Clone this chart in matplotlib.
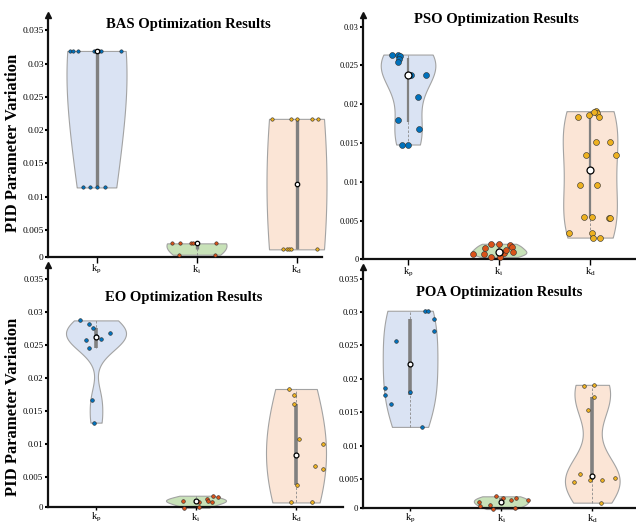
import numpy as np
import matplotlib.pyplot as plt

plt.rcParams['font.family'] = ['Liberation Serif', 'DejaVu Serif']
plt.rcParams['mathtext.fontset'] = 'custom'
plt.rcParams['mathtext.rm'] = 'Liberation Serif'
plt.rcParams['mathtext.it'] = 'Liberation Serif:italic'

gain_labels = [r'$\mathregular{k_p}$', r'$\mathregular{k_i}$', r'$\mathregular{k_d}$']

# BAS runs: parameter variation and horizontal jitter of each dot
bas_kp = [0.0319, 0.0319, 0.0319, 0.0319, 0.0319, 0.0319, 0.0319, 0.0319,
          0.0114, 0.0114, 0.0114, 0.0114]
bas_kp_dx = [-0.267, -0.24, -0.187, -0.027, -0.01, 0.023, 0.04, 0.24,
             -0.133, -0.07, 0.0, 0.08]
bas_ki = [0.0030, 0.0030, 0.0030, 0.0030, 0.0030, 0.0030, 0.0013, 0.0013]
bas_ki_dx = [-0.247, -0.163, -0.053, -0.037, 0.0, 0.19, -0.177, 0.18]
bas_kd = [0.0217, 0.0217, 0.0217, 0.0217, 0.0217,
          0.0021, 0.0021, 0.0021, 0.0021, 0.0021]
bas_kd_dx = [-0.25, -0.053, 0.007, 0.157, 0.213, -0.133, -0.10, -0.077, -0.06, 0.207]

# PSO runs
pso_kp = [0.0263, 0.0264, 0.0262, 0.0258, 0.0255, 0.0238, 0.0238, 0.0238,
          0.0209, 0.0180, 0.0168, 0.0148, 0.0148]
pso_kp_dx = [-0.179, -0.113, -0.088, -0.096, -0.11, 0.003, 0.033, 0.195,
             0.113, -0.107, 0.124, -0.063, 0.003]
pso_ki = [0.0007, 0.0015, 0.0020, 0.0020, 0.0019, 0.0016, 0.0009, 0.0008,
          0.0009, 0.0007, 0.0003, 0.0003, 0.0012]
pso_ki_dx = [-0.282, -0.151, -0.088, -0.003, 0.124, 0.14, 0.154, 0.055,
             0.008, -0.162, -0.091, 0.014, 0.08]
pso_kd = [0.0183, 0.0186, 0.0191, 0.0188, 0.0183, 0.0190, 0.0151, 0.0151,
          0.0135, 0.0135, 0.0096, 0.0096, 0.0055, 0.0055, 0.0053, 0.0053,
          0.00345, 0.00345, 0.0028, 0.0028]
pso_kd_dx = [-0.129, -0.008, 0.063, 0.08, 0.102, 0.044, 0.066, 0.223,
             -0.041, 0.289, -0.113, 0.077, -0.063, 0.019, 0.205, 0.216,
             -0.227, 0.019, 0.03, 0.11]

# EO runs
eo_kp = [0.0287, 0.0282, 0.0276, 0.0268, 0.0257, 0.0259, 0.0245, 0.0264,
         0.0167, 0.0132]
eo_kp_dx = [-0.16, -0.067, -0.033, 0.14, -0.103, 0.05, -0.067, 0.0, -0.043, -0.017]
eo_ki = [0.00136, 0.0003, 0.00136, 0.00112, 0.00036, 0.00158, 0.00136,
         0.00112, 0.00212, 0.00188]
eo_ki_dx = [-0.133, -0.123, 0.0, 0.033, 0.033, 0.107, 0.12, 0.163, 0.173, 0.217]
eo_kd = [0.0183, 0.0174, 0.0160, 0.0107, 0.0100, 0.0066, 0.0061, 0.0037,
         0.0011, 0.0011]
eo_kd_dx = [-0.067, -0.02, -0.02, 0.03, 0.273, 0.19, 0.273, 0.007, -0.05, 0.163]

# POA runs
poa_kp = [0.0302, 0.0302, 0.0290, 0.0272, 0.0257, 0.0187, 0.0181, 0.0176,
          0.0162, 0.0128]
poa_kp_dx = [0.165, 0.198, 0.264, 0.267, -0.154, -0.278, -0.003, -0.278, -0.205, 0.132]
poa_ki = [0.0015, 0.0010, 0.0011, 0.0005, 0.0024, 0.0015, 0.0022, 0.0019,
          0.0007, 0.0022, 0.0018]
poa_ki_dx = [-0.245, -0.227, -0.118, -0.088, -0.055, 0.003, 0.019, 0.11,
             0.154, 0.165, 0.293]
poa_kd = [0.0190, 0.0191, 0.01725, 0.0153, 0.0058, 0.0046, 0.0049, 0.0049,
          0.0052, 0.00145]
poa_kd_dx = [-0.088, 0.022, 0.022, -0.052, -0.14, -0.205, -0.022, 0.107, 0.253, 0.091]

fills = ['#dae3f3', '#c8e2b8', '#fbe5d6']
dots = ['#0072bd', '#d95319', '#edb120']

W, H = 636, 525
fig = plt.figure(figsize=(W / 100, H / 100), dpi=100)


def pix_axes(left, top, right, bottom):
    ax = fig.add_axes([left / W, 1 - bottom / H, (right - left) / W, (bottom - top) / H])
    ax.set_facecolor('none')
    return ax


def draw_panel(ax, series, jitters, bws, xlim, ylim, yticks, ylabels, title, title_pos,
               tick_size, dot_size, med_size, box_lw, xtick_len=4):
    for i, (vals, dx) in enumerate(zip(series, jitters)):
        pos = i + 1
        vals = np.array(vals)
        parts = ax.violinplot(vals, positions=[pos], widths=0.6, showextrema=False,
                              bw_method=bws[i], points=300)
        body = parts['bodies'][0]
        body.set_facecolor(fills[i])
        body.set_edgecolor('#a3a3a3')
        body.set_linewidth(0.8)
        body.set_alpha(1)
        body.set_zorder(1)
        body.set_clip_on(False)

        q1, med, q3 = np.percentile(vals, [25, 50, 75], method='hazen')
        iqr = q3 - q1
        lo = vals[vals >= q1 - 1.5 * iqr].min()
        hi = vals[vals <= q3 + 1.5 * iqr].max()
        ax.plot([pos, pos], [lo, hi], color='#8a8a8a', lw=0.6, ls=(0, (3, 2)), zorder=2)
        ax.plot([pos, pos], [q1, q3], color='#808080', lw=box_lw,
                solid_capstyle='butt', zorder=3)
        ax.scatter(pos + np.array(dx), vals, s=dot_size, color=dots[i],
                   edgecolors='#2b2b2b', linewidths=0.4, zorder=4, clip_on=False)
        ax.plot(pos, med, 'o', ms=med_size, mfc='white', mec='black', mew=0.9,
                zorder=5, clip_on=False)

    ax.set_xlim(*xlim)
    ax.set_ylim(*ylim)
    ax.set_xticks([1, 2, 3])
    ax.set_xticklabels(gain_labels, fontsize=7.5)
    ax.set_yticks(yticks)
    ax.set_yticklabels(ylabels, fontsize=tick_size)
    ax.tick_params(axis='y', direction='out', length=2, width=1.5, pad=1)
    ax.tick_params(axis='x', direction='out', length=xtick_len, width=1, pad=0.5)
    for side in ['top', 'right']:
        ax.spines[side].set_visible(False)
    for side in ['left', 'bottom']:
        ax.spines[side].set_linewidth(1.6)
        ax.spines[side].set_color('#111111')
    # arrow head on top of the value axis
    ax.plot([0], [1], marker='^', ms=5, color='#111111', transform=ax.transAxes,
            clip_on=False)
    ax.text(title_pos[0], title_pos[1], title, transform=ax.transAxes, ha='center',
            va='center', fontsize=10.5, fontweight='bold')


lab7 = ['0', '0.005', '0.01', '0.015', '0.02', '0.025', '0.03', '0.035']

ax1 = pix_axes(48, 15, 322, 257)
draw_panel(ax1, [bas_kp, bas_ki, bas_kd], [bas_kp_dx, bas_ki_dx, bas_kd_dx],
           [1.25, 2.3, 2.0], (0.515, 3.255), (0.00095, 0.0373),
           [0.00095, 0.005, 0.01, 0.015, 0.02, 0.025, 0.03, 0.035], lab7,
           'BAS Optimization Results', (0.511, 0.959), 6.8, 6, 3.2, 2.4)

ax2 = pix_axes(363, 15, 636, 259.3)
draw_panel(ax2, [pso_kp, pso_ki, pso_kd], [pso_kp_dx, pso_ki_dx, pso_kd_dx],
           [0.6, 0.8, 0.75], (0.505, 3.505), (0, 0.0315),
           [0, 0.005, 0.01, 0.015, 0.02, 0.025, 0.03], lab7[:7],
           'PSO Optimization Results', (0.487, 0.98), 6, 18, 5, 1.6)

ax3 = pix_axes(47.5, 265, 343, 507)
draw_panel(ax3, [eo_kp, eo_ki, eo_kd], [eo_kp_dx, eo_ki_dx, eo_kd_dx],
           [0.4, 0.9, 1.3], (0.515, 3.47), (0.00041, 0.0371),
           [0.00041, 0.005, 0.01, 0.015, 0.02, 0.025, 0.03, 0.035], lab7,
           'EO Optimization Results', (0.46, 0.865), 6.3, 7, 3.5, 2.6, xtick_len=2.5)

ax4 = pix_axes(362.7, 266.7, 636, 508)
draw_panel(ax4, [poa_kp, poa_ki, poa_kd], [poa_kp_dx, poa_ki_dx, poa_kd_dx],
           [0.9, 0.9, 0.5], (0.48, 3.48), (0.00065, 0.0368),
           [0.00065, 0.005, 0.01, 0.015, 0.02, 0.025, 0.03, 0.035], lab7,
           'POA Optimization Results', (0.5, 0.894), 6.3, 7, 3.5, 2.6, xtick_len=2.5)

fig.text(13 / W, 1 - 142.5 / H, 'PID Parameter Variation', rotation=90, ha='center',
         va='center', fontsize=12, fontweight='bold')
fig.text(13 / W, 1 - 407 / H, 'PID Parameter Variation', rotation=90, ha='center',
         va='center', fontsize=12, fontweight='bold')

fig.savefig('out.png', dpi=100)
